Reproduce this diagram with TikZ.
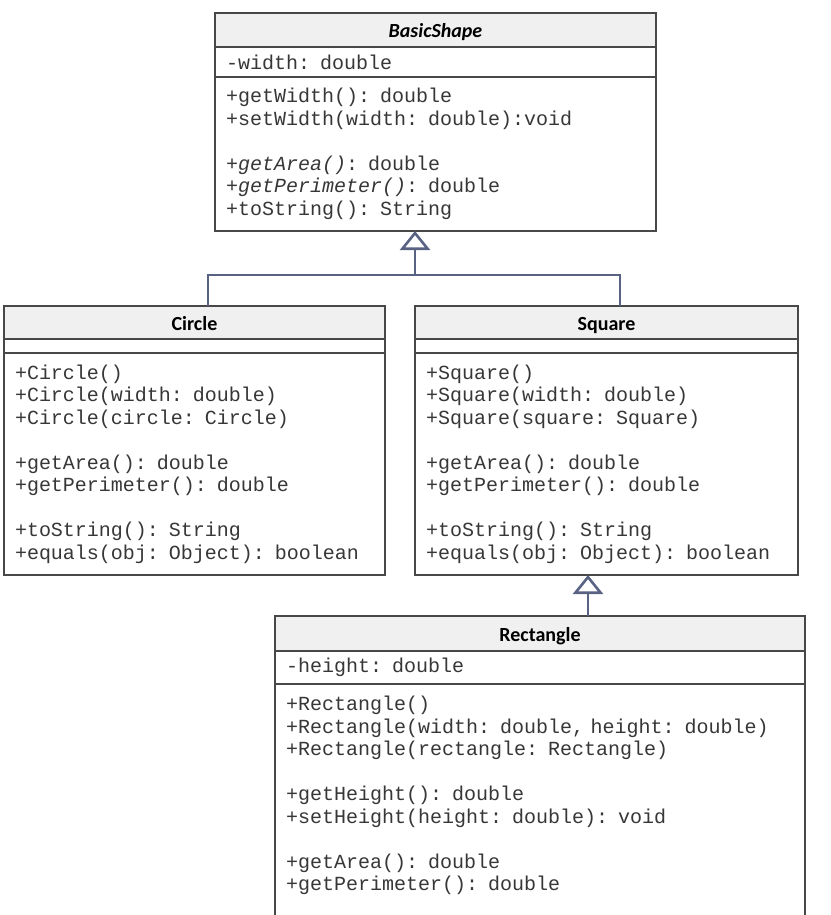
\documentclass[tikz,border=0pt]{standalone}
\usepackage{fontspec}
\setmonofont{Liberation Mono}
\newfontfamily\titlefamily{Carlito}
\usepackage{tikz}
\usetikzlibrary{arrows.meta,positioning}
\definecolor{boxline}{RGB}{72,72,72}
\definecolor{titlefill}{RGB}{240,240,240}
\definecolor{genblue}{RGB}{88,98,130}
\definecolor{optext}{RGB}{55,55,55}

\begin{document}
\begin{tikzpicture}[
  x=0.5pt, y=-0.5pt,
  node distance=0pt,
  classname/.style={draw=boxline, line width=0.7pt, outer sep=0pt, fill=titlefill, inner sep=0pt, anchor=north west, text height=9.5pt, text depth=1.5pt, font=\titlefamily\bfseries\fontsize{10}{12}\selectfont},
  compart/.style={draw=boxline, line width=0.7pt, outer sep=0pt, fill=white, align=left, inner xsep=5.5pt, inner ysep=0pt, text=optext, font=\ttfamily\fontsize{10}{11.25}\selectfont},
  gen/.style={draw=genblue, line width=1.3pt},
  inherit/.style={gen, -{Triangle[open, fill=white, length=9.5pt, width=15pt]}}
]
\useasboundingbox (0,0) rectangle (830,915);

\node[classname, minimum width=220.5pt, minimum height=17pt] (basic-title) at (215,13) {\itshape BasicShape};
\node[compart, text width=209.5pt, minimum height=15pt, below=of basic-title] (basic-attr) {-width: double};
\node[compart, text width=209.5pt, minimum height=77pt, below=of basic-attr] (basic-ops)
  {+getWidth(): double\\+setWidth(width: double):void\\[\baselineskip]
   +\textit{getArea()}: double\\+\textit{getPerimeter()}: double\\+toString(): String};

\node[classname, minimum width=190.5pt, minimum height=16.5pt] (circle-title) at (4,306) {Circle};
\node[compart, text width=179.5pt, minimum height=7pt, below=of circle-title] (circle-attr) {};
\node[compart, text width=179.5pt, minimum height=111pt, below=of circle-attr] (circle-ops)
  {+Circle()\\+Circle(width: double)\\+Circle(circle: Circle)\\[\baselineskip]
   +getArea(): double\\+getPerimeter(): double\\[\baselineskip]
   +toString(): String\\+equals(obj: Object): boolean};

\node[classname, minimum width=191.5pt, minimum height=16.5pt] (square-title) at (415,306) {Square};
\node[compart, text width=180.5pt, minimum height=7pt, below=of square-title] (square-attr) {};
\node[compart, text width=180.5pt, minimum height=111pt, below=of square-attr] (square-ops)
  {+Square()\\+Square(width: double)\\+Square(square: Square)\\[\baselineskip]
   +getArea(): double\\+getPerimeter(): double\\[\baselineskip]
   +toString(): String\\+equals(obj: Object): boolean};

\node[classname, minimum width=265pt, minimum height=17.5pt] (rect-title) at (275,616) {Rectangle};
\node[compart, text width=254pt, minimum height=16.5pt, below=of rect-title] (rect-attr) {-height: double};
\node[compart, text width=254pt, minimum height=120.5pt, below=of rect-attr] (rect-ops)
  {+Rectangle()\\+Rectangle(width: double, height: double)\\+Rectangle(rectangle: Rectangle)\\[\baselineskip]
   +getHeight(): double\\+setHeight(height: double): void\\[\baselineskip]
   +getArea(): double\\+getPerimeter(): double\\\mbox{}};

\coordinate (join) at (415,275);
\draw[gen] ([xshift=6.75pt]circle-title.north) |- (join) -| ([xshift=6.75pt]square-title.north);
\draw[inherit] (join) -- (join |- basic-ops.south);
\draw[inherit] ([xshift=24pt]rect-title.north) -- ([xshift=24pt]rect-title.north |- square-ops.south);
\end{tikzpicture}
\end{document}
